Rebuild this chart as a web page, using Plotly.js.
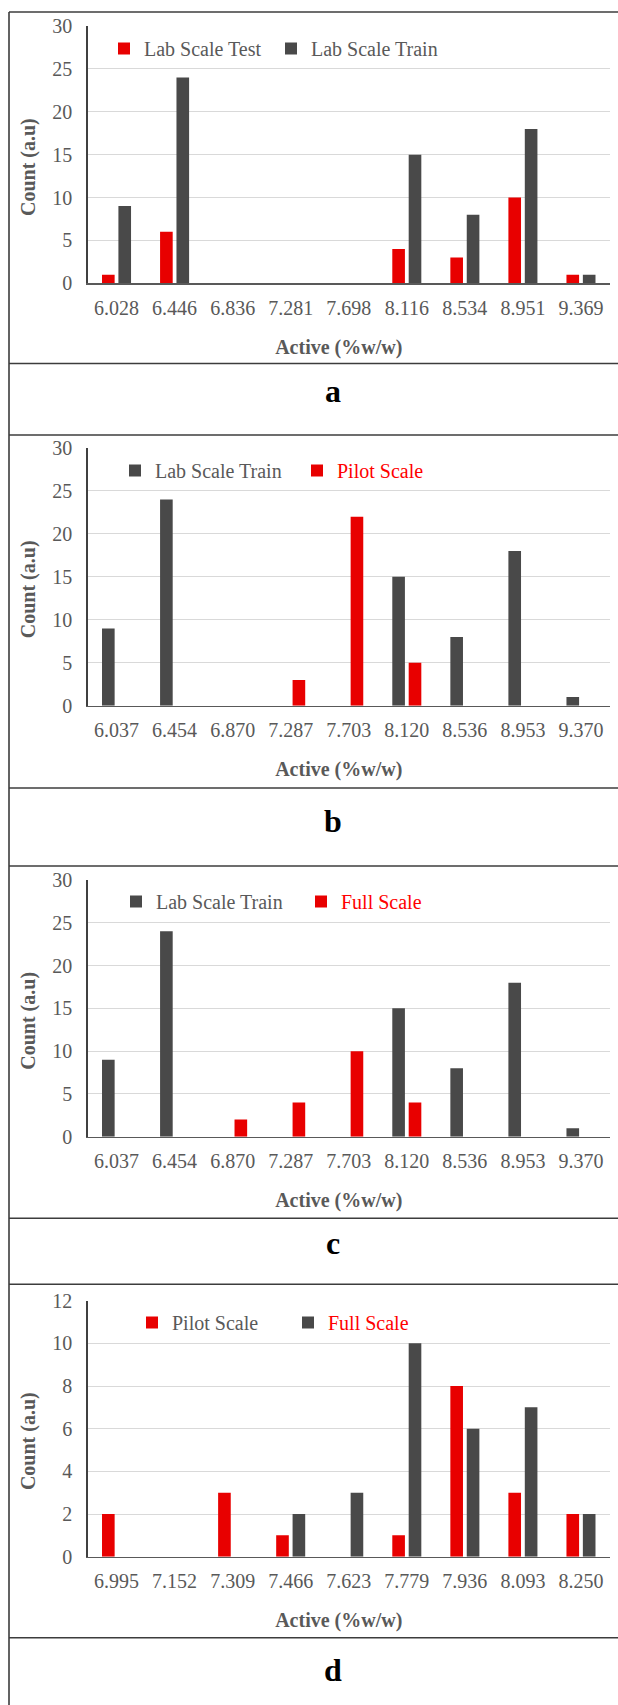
<!DOCTYPE html>
<html>
<head>
<meta charset="utf-8">
<script src="https://cdn.plot.ly/plotly-3.0.1.min.js"></script>
<style>html,body{margin:0;padding:0;background:#fff;}#chart{width:618px;height:1705px;}</style>
</head>
<body>
<div id="chart"></div>
<script>
// ---- data ----
const catsA = ["6.028","6.446","6.836","7.281","7.698","8.116","8.534","8.951","9.369"];
const labTestA = [1,6,0,0,0,4,3,10,1];
const labTrainA = [9,24,0,0,0,15,8,18,1];

const catsB = ["6.037","6.454","6.870","7.287","7.703","8.120","8.536","8.953","9.370"];
const labTrainB = [9,24,0,0,0,15,8,18,1];
const pilotB = [0,0,0,3,22,5,0,0,0];

const catsC = ["6.037","6.454","6.870","7.287","7.703","8.120","8.536","8.953","9.370"];
const labTrainC = [9,24,0,0,0,15,8,18,1];
const fullC = [0,0,2,4,10,4,0,0,0];

const catsD = ["6.995","7.152","7.309","7.466","7.623","7.779","7.936","8.093","8.250"];
const pilotD = [2,0,3,1,0,1,8,3,2];
const fullD = [0,0,0,2,3,10,6,7,2];

const panelLabels = ["a","b","c","d"];
const xTitle = "Active (%w/w)";
const yTitle = "Count (a.u)";

// ---- styling ----
const W = 618, H = 1705;
const RED = "#E80000", DARK = "#494949", GRAY = "#595959";
const FONT = '"Liberation Serif", "Times New Roman", serif';
const px = v => v / W;
const py = v => 1 - v / H;
const pad = n => "&nbsp;".repeat(n);

const traces = [
  {type:"bar", x:catsA, y:labTestA, name:"Lab Scale Test", marker:{color:RED}, xaxis:"x", yaxis:"y", legend:"legend"},
  {type:"bar", x:catsA, y:labTrainA, name:"Lab Scale Train", marker:{color:DARK}, xaxis:"x", yaxis:"y", legend:"legend"},
  {type:"bar", x:catsB, y:labTrainB, name:"Lab Scale Train", marker:{color:DARK}, xaxis:"x2", yaxis:"y2", legend:"legend2"},
  {type:"bar", x:catsB, y:pilotB, name:'<span style="color:#ff0000">Pilot Scale</span>', marker:{color:RED}, xaxis:"x2", yaxis:"y2", legend:"legend2"},
  {type:"bar", x:catsC, y:labTrainC, name:"Lab Scale Train", marker:{color:DARK}, xaxis:"x3", yaxis:"y3", legend:"legend3"},
  {type:"bar", x:catsC, y:fullC, name:'<span style="color:#ff0000">Full Scale</span>', marker:{color:RED}, xaxis:"x3", yaxis:"y3", legend:"legend3"},
  {type:"bar", x:catsD, y:pilotD, name:"Pilot Scale", marker:{color:RED}, xaxis:"x4", yaxis:"y4", legend:"legend4"},
  {type:"bar", x:catsD, y:fullD, name:'<span style="color:#ff0000">Full Scale</span>', marker:{color:DARK}, xaxis:"x4", yaxis:"y4", legend:"legend4"}
];

// plot area pixel positions [top, bottom]
const panels = [
  {top:26, bottom:283.3, ymax:30, dtick:5, legY:48.5, legX:104, entry:122, labelY:391},
  {top:448, bottom:705.7, ymax:30, dtick:5, legY:470.5, legX:115, entry:137, labelY:821},
  {top:880, bottom:1136.7, ymax:30, dtick:5, legY:901.5, legX:116, entry:140, labelY:1243},
  {top:1300.7, bottom:1556.7, ymax:12, dtick:2, legY:1322.5, legX:132, entry:111, labelY:1670}
];

const layout = {
  width: W, height: H,
  margin: {l:0, r:0, t:0, b:0},
  paper_bgcolor: "#fff", plot_bgcolor: "#fff",
  font: {family: FONT, size: 20, color: GRAY},
  barmode: "group", bargap: 0.435, bargroupgap: 0.23,
  showlegend: true,
  annotations: [], shapes: []
};

panels.forEach((p, i) => {
  const s = i === 0 ? "" : String(i + 1);
  layout["xaxis" + s] = {
    type: "category", domain: [px(87.5), px(610)], anchor: "y" + s,
    showline: true, linecolor: "#595959", linewidth: 1.5,
    showgrid: false, ticks: "", ticklabelstandoff: 6,
    tickfont: {family: FONT, size: 20, color: GRAY},
    title: {text: "<b>" + xTitle + pad(4) + "</b>", font: {family: FONT, size: 20, color: GRAY}, standoff: 22},
    automargin: false, fixedrange: true
  };
  layout["yaxis" + s] = {
    domain: [py(p.bottom), py(p.top)], anchor: "x" + s,
    range: [0, p.ymax], dtick: p.dtick, tick0: 0,
    showline: true, linecolor: "#404040", linewidth: 1.3,
    showgrid: true, gridcolor: "#d9d9d9", gridwidth: 1, zeroline: false,
    ticks: "", ticklabelstandoff: 10,
    tickfont: {family: FONT, size: 20, color: GRAY},
    title: {text: "<b>" + yTitle + pad(5) + "</b>", font: {family: FONT, size: 20, color: GRAY}, standoff: 11},
    automargin: false, fixedrange: true
  };
  const lname = i === 0 ? "legend" : "legend" + (i + 1);
  layout[lname] = {
    orientation: "h", x: px(p.legX), xanchor: "left", y: py(p.legY), yanchor: "middle",
    bgcolor: "rgba(0,0,0,0)", borderwidth: 0,
    font: {family: FONT, size: 20, color: GRAY},
    entrywidth: p.entry, entrywidthmode: "pixels", traceorder: "normal"
  };
  layout.annotations.push({
    xref: "paper", yref: "paper", x: px(333), y: py(p.labelY),
    xanchor: "center", yanchor: "middle", showarrow: false,
    text: "<b>" + panelLabels[i] + "</b>",
    font: {family: FONT, size: 32, color: "#000"}
  });
});

// table border lines
const lineStyle = {color: "#3c3c3c", width: 1.6};
layout.shapes.push({type:"line", xref:"paper", yref:"paper", x0:px(9), x1:px(9), y0:py(12), y1:0, line:lineStyle});
[12, 363.5, 435, 788, 866, 1218.3, 1284.3, 1637.7].forEach(yy => {
  layout.shapes.push({type:"line", xref:"paper", yref:"paper", x0:px(9), x1:1, y0:py(yy), y1:py(yy), line:lineStyle});
});

Plotly.newPlot("chart", traces, layout, {staticPlot: true, displayModeBar: false});
</script>
</body>
</html>
